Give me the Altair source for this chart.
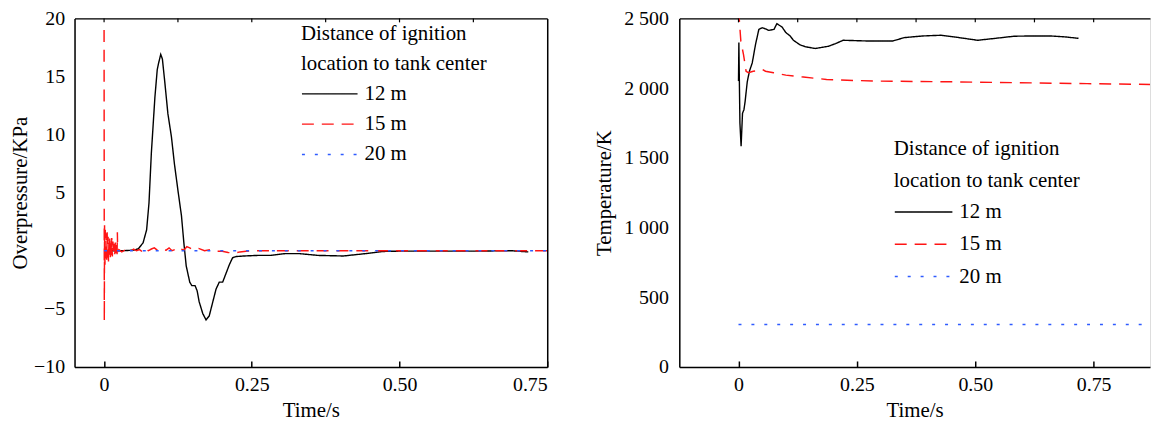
import altair as alt
import pandas as pd

FONT = "Liberation Serif"
SERIES = ["12 m", "15 m", "20 m"]
COLORS = ["#000000", "#ff1414", "#2f5bff"]
DASHES = [[1, 0], [12, 8], [3, 10]]
WIDTHS = [1.4, 1.5, 2.4]
LEGEND_TITLE = ["Distance of ignition", "location to tank center"]

# ---------------- left panel: overpressure (kPa) ----------------
op12_t = [0.0, 0.03, 0.05, 0.058, 0.066, 0.072, 0.076, 0.080, 0.086, 0.090,
          0.0925, 0.0959, 0.0987, 0.1026, 0.108, 0.114, 0.119, 0.125, 0.131, 0.135,
          0.139, 0.145, 0.1485, 0.154, 0.1575, 0.161, 0.167, 0.1726, 0.178, 0.184,
          0.1895, 0.195, 0.2007, 0.206, 0.212, 0.2175, 0.223, 0.237, 0.26, 0.282,
          0.306, 0.331, 0.362, 0.405, 0.442, 0.473, 0.504, 0.566, 0.628, 0.69, 0.718]
op12_v = [0.0, 0.0, 0.05, 0.17, 0.68, 1.8, 4.1, 8.4, 13.2, 15.6,
          16.2, 16.9, 16.5, 14.6, 11.8, 9.8, 7.5, 5.2, 3.0, 0.7,
          -1.3, -2.7, -3.0, -3.0, -3.45, -4.4, -5.4, -5.95, -5.6, -4.4,
          -3.3, -2.7, -2.7, -2.0, -1.2, -0.6, -0.5, -0.45, -0.4, -0.4,
          -0.25, -0.25, -0.4, -0.45, -0.25, -0.06, -0.03, -0.03, -0.03, 0.0, -0.1]

op15_t = [0.0, 0.0004, 0.0008, 0.0015, 0.002, 0.003, 0.0038, 0.0045, 0.0052, 0.006,
          0.0068, 0.0075, 0.0083, 0.009, 0.0098, 0.0105, 0.0113, 0.012, 0.013, 0.014,
          0.015, 0.016, 0.017, 0.018, 0.019, 0.020, 0.021, 0.022, 0.0225, 0.023,
          0.025, 0.03, 0.035, 0.04, 0.045, 0.05, 0.055, 0.06, 0.065, 0.07,
          0.075, 0.08, 0.085, 0.09, 0.095, 0.1, 0.105, 0.11, 0.115, 0.12,
          0.125, 0.13, 0.135, 0.14, 0.145, 0.15, 0.16, 0.17, 0.18, 0.19,
          0.2, 0.21, 0.22, 0.23, 0.24, 0.25, 0.3, 0.4, 0.5, 0.6, 0.7, 0.75]
op15_v = [19.0, -6.0, 2.2, -1.2, 1.8, -1.0, 1.5, -0.8, 1.6, -0.6,
          1.2, -1.0, 1.0, -0.5, 1.3, -0.7, 0.9, -0.4, 1.1, -0.5,
          0.8, -0.3, 0.6, -0.4, 0.7, -0.2, 0.5, -0.3, 1.6, -0.1,
          0.1, -0.1, 0.05, 0.1, -0.05, 0.15, 0.0, 0.1, -0.1, 0.2,
          0.0, 0.15, 0.25, 0.05, 0.2, 0.1, 0.05, 0.25, 0.0, 0.1,
          -0.05, 0.15, 0.05, 0.35, 0.25, 0.1, 0.2, 0.0, 0.1, -0.05,
          -0.05, -0.15, -0.2, -0.1, -0.05, 0.0, 0.0, 0.0, 0.0, 0.0, 0.0, 0.0]

op20_t = [0.0, 0.75]
op20_v = [0.0, 0.0]

# ---------------- right panel: temperature (K) ----------------
tk12_t = [0.0, 0.0008, 0.003, 0.0055, 0.0085, 0.0115, 0.014, 0.0185, 0.023, 0.029,
          0.036, 0.043, 0.05, 0.057, 0.064, 0.075, 0.081, 0.092, 0.1, 0.109,
          0.116, 0.13, 0.142, 0.162, 0.19, 0.205, 0.221, 0.27, 0.326, 0.35,
          0.389, 0.428, 0.466, 0.505, 0.543, 0.582, 0.62, 0.659, 0.69, 0.718]
tk12_v = [2050, 2327, 1750, 1583, 1820, 1845, 1905, 2045, 2120, 2180,
          2314, 2421, 2433, 2425, 2414, 2421, 2462, 2438, 2398, 2374,
          2343, 2310, 2296, 2284, 2300, 2319, 2343, 2338, 2338, 2362,
          2374, 2379, 2362, 2343, 2357, 2372, 2374, 2374, 2367, 2357]

tk15_t = [0.0, 0.0015, 0.005, 0.0106, 0.016, 0.021, 0.031, 0.042, 0.05, 0.057,
          0.074, 0.1, 0.137, 0.186, 0.242, 0.298, 0.428, 0.58, 0.736, 0.844, 1.0]
tk15_v = [2560, 2500, 2335, 2240, 2121, 2110, 2121, 2125, 2135, 2121,
          2110, 2093, 2079, 2062, 2055, 2050, 2046, 2039, 2032, 2027, 2020]

tk20_t = [0.0, 1.0]
tk20_v = [305, 305]

# axis values
X_TICKS = [0, 0.25, 0.5, 0.75]
TOP_TICKS = [0, 0.125, 0.25, 0.375, 0.5, 0.625, 0.75]
OP_TICKS = [-10, -5, 0, 5, 10, 15, 20]
TK_TICKS = [0, 500, 1000, 1500, 2000, 2500]


def long_df(parts):
    rows = []
    for name, ts, vs in parts:
        for t, v in zip(ts, vs):
            rows.append({"series": name, "t": t, "v": v})
    return pd.DataFrame(rows)


left_df = long_df([("12 m", op12_t, op12_v), ("15 m", op15_t, op15_v), ("20 m", op20_t, op20_v)])
right_df = long_df([("12 m", tk12_t, tk12_v), ("15 m", tk15_t, tk15_v), ("20 m", tk20_t, tk20_v)])

H = 351


def legend(x, y, line_h, title_pad, row_pad, size):
    return alt.Legend(
        orient="none", legendX=x, legendY=y, title=LEGEND_TITLE,
        titleFont=FONT, titleFontSize=21, titleFontWeight="normal", titleColor="black",
        titleLineHeight=line_h, titlePadding=title_pad, titleLimit=500,
        labelFont=FONT, labelFontSize=21, labelColor="black", labelOffset=6, labelLimit=200,
        symbolType="stroke", symbolSize=size, clipHeight=28, rowPadding=row_pad, padding=0,
    )


def panel(df, width, xdom, ydom, yticks, ytitle, ylabel_expr, leg, title_pad, label_pad,
          right_border, top_ticks):
    xs = alt.Scale(domain=xdom, nice=False, zero=False)
    ys = alt.Scale(domain=ydom, nice=False, zero=False)
    enc_style = dict(
        color=alt.Color("series:N", scale=alt.Scale(domain=SERIES, range=COLORS), legend=leg),
        strokeDash=alt.StrokeDash("series:N", scale=alt.Scale(domain=SERIES, range=DASHES), legend=leg),
        strokeWidth=alt.StrokeWidth("series:N", scale=alt.Scale(domain=SERIES, range=WIDTHS), legend=leg),
    )
    lines = alt.Chart(df).mark_line(clip=True).encode(
        x=alt.X("t:Q", scale=xs, axis=alt.Axis(
            orient="bottom", values=X_TICKS,
            labelExpr="datum.value == 0 ? '0' : format(datum.value, '.2f')",
            title="Time/s", domain=True, domainColor="black", domainWidth=1.5,
            ticks=False, grid=False, labelFont=FONT, labelFontSize=20, labelColor="black",
            labelPadding=8, titleFont=FONT, titleFontSize=21, titleFontWeight="normal",
            titleColor="black", titlePadding=5)),
        y=alt.Y("v:Q", scale=ys, axis=alt.Axis(
            orient="left", values=yticks, labelExpr=ylabel_expr, title=ytitle,
            domain=True, domainColor="black", domainWidth=1.5, ticks=False, grid=False,
            labelFont=FONT, labelFontSize=20, labelColor="black", labelPadding=label_pad,
            titleFont=FONT, titleFontSize=21, titleFontWeight="normal", titleColor="black",
            titlePadding=title_pad)),
        **enc_style,
    )
    frame = alt.Chart(df).mark_line(strokeOpacity=0, clip=True).encode(
        x=alt.X("t:Q", scale=xs, axis=alt.Axis(
            orient="top", offset=-H, values=X_TICKS, domain=False, labels=False,
            ticks=True, tickSize=6, tickWidth=1.5, tickColor="black", grid=False, title=None)),
        y=alt.Y("v:Q", scale=ys, axis=alt.Axis(
            orient="right", values=[ydom[1]], domain=right_border, domainColor="black",
            domainWidth=1.5, labels=False, ticks=False, grid=True, gridColor="black",
            gridWidth=1.5, gridOpacity=1, title=None)),
        detail="series:N",
    )
    tops = alt.Chart(pd.DataFrame({"t": top_ticks})).mark_rule(color="black", strokeWidth=1.2).encode(
        x=alt.X("t:Q", scale=xs, axis=None),
        y=alt.value(0), y2=alt.value(4),
    )
    return alt.layer(lines, frame, tops).properties(width=width, height=H)


left = panel(left_df, 476, [-0.05, 0.75], [-10, 20], OP_TICKS, "Overpressure/KPa",
             "format(datum.value, 'd')",
             legend(228, 5, 30, 6, 2.5, 3136), 3, 10, True, TOP_TICKS[:-1])
right = panel(right_df, 474, [-0.125, 0.869], [0, 2500], TK_TICKS, "Temperature/K",
              "replace(format(datum.value, ','), ',', ' ')",
              legend(216, 121, 32, 7, 4.5, 3364), 9, 11, False, TOP_TICKS)

chart = alt.hconcat(left, right, spacing=44).resolve_scale(
    color="independent", strokeDash="independent", strokeWidth="independent"
).resolve_legend(
    color="independent", strokeDash="independent", strokeWidth="independent"
).properties(
    padding={"left": 1, "top": -2, "right": 0, "bottom": 0}
).configure_view(stroke=None).configure(font=FONT, background="white")

chart.save("out.html", embed_options={"renderer": "svg", "actions": False})
